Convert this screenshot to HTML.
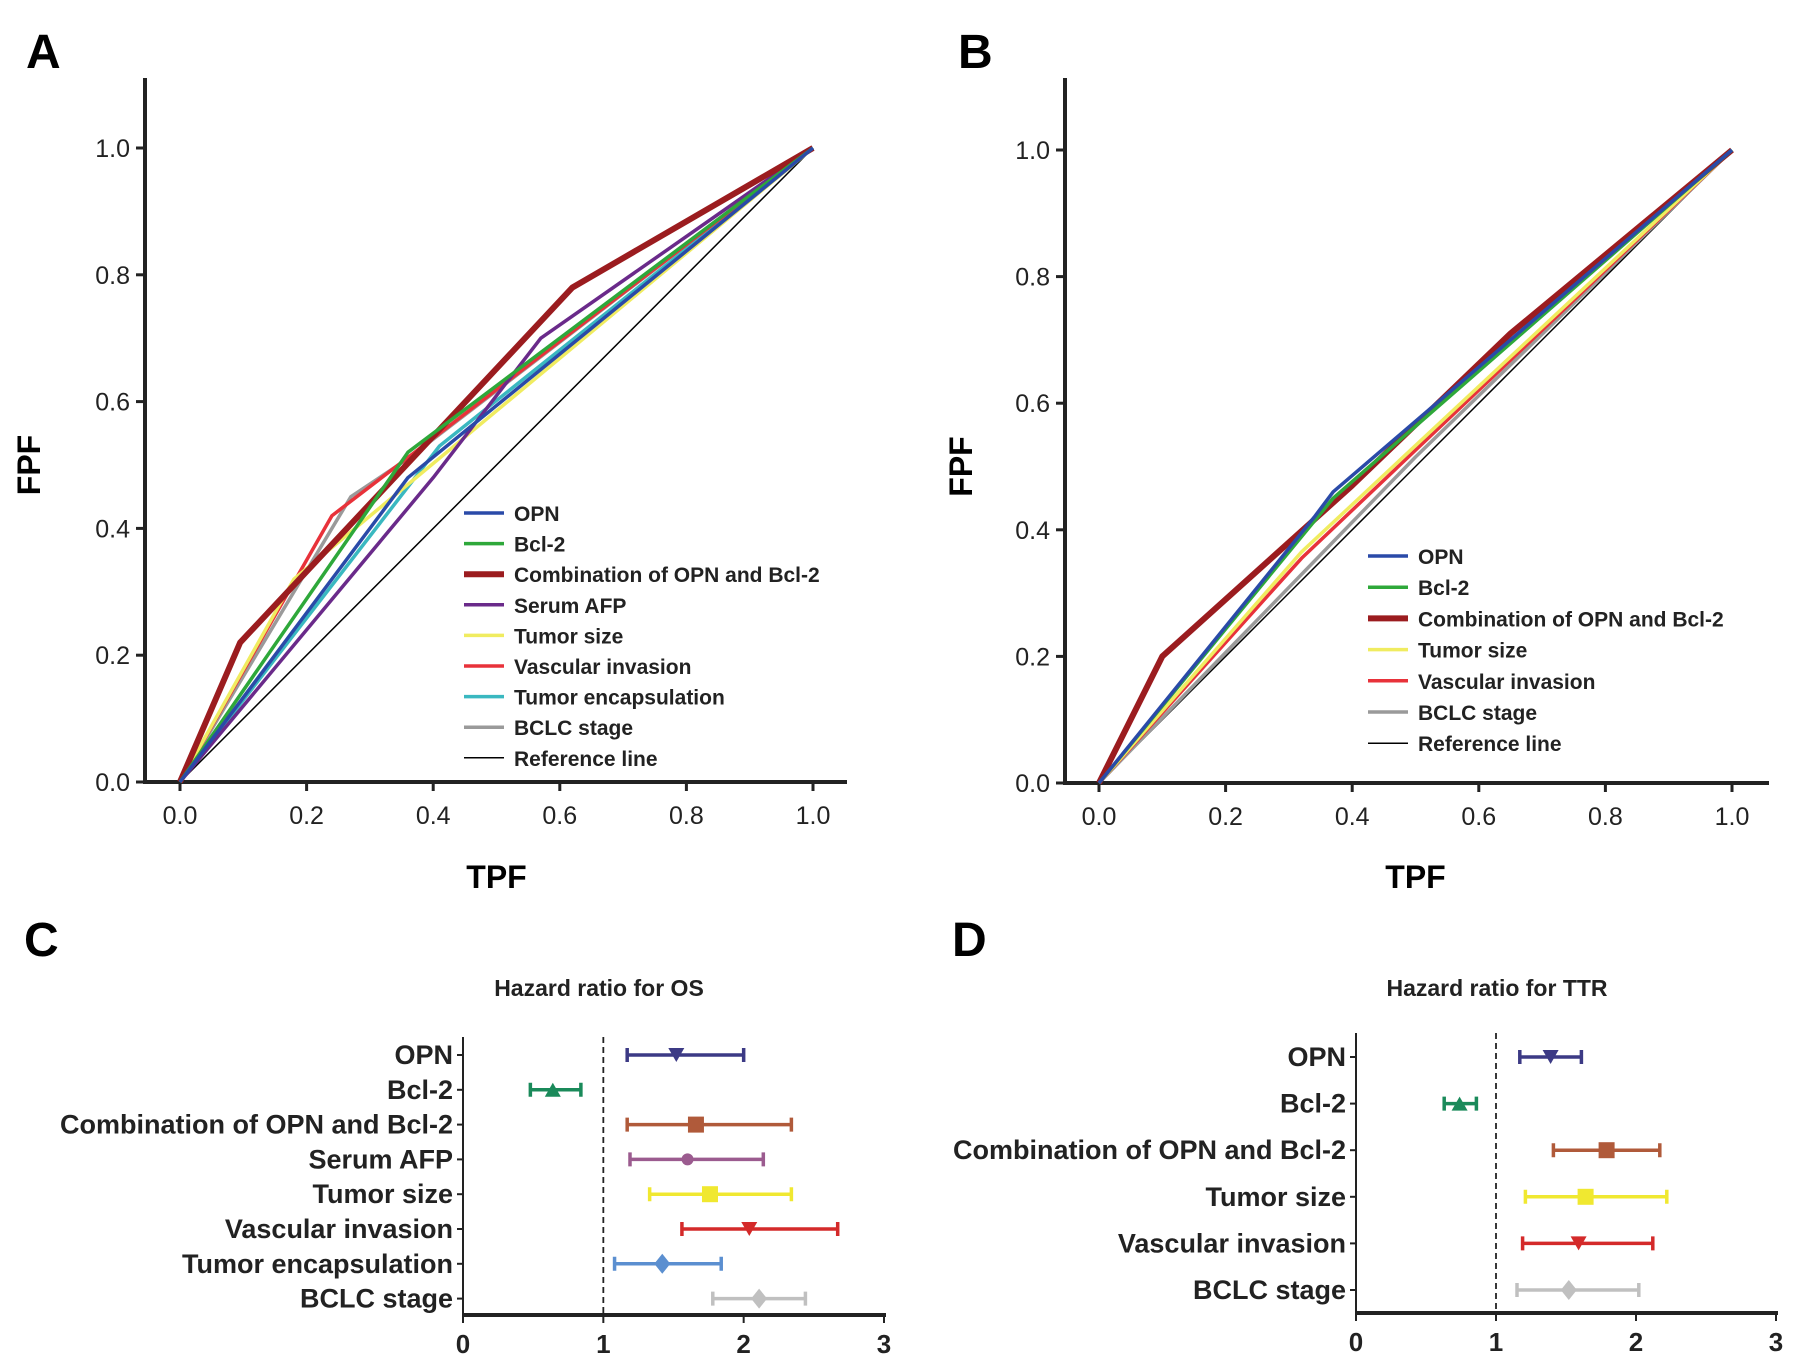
<!DOCTYPE html>
<html><head><meta charset="utf-8"><style>
html,body{margin:0;padding:0;background:#fff}
svg{display:block;font-family:"Liberation Sans",Arial,sans-serif}
</style></head><body>
<svg id="fig" width="1795" height="1369" viewBox="0 0 1795 1369" xmlns="http://www.w3.org/2000/svg">
<g id="gA"></g>
<g id="gB"></g>
<g id="gC"></g>
<g id="gD"></g>
</svg>
<script>
// ---- Panel A data ----
const rocANames = ["OPN","Bcl-2","Combination of OPN and Bcl-2","Serum AFP","Tumor size","Vascular invasion","Tumor encapsulation","BCLC stage","Reference line"];
const rocAColors = ["#2a4aa8","#2ea83a","#9b1c1f","#6a2a8a","#f0ec60","#e8323a","#3ab8c0","#9a9a9a","#000"];
const rocAWidths = [3.5,3.5,6,3.5,3.5,3.5,3.5,3.5,1.5];
const rocAX = [[0,0.36,1],[0,0.36,1],[0,0.095,0.62,1],[0,0.4,0.57,1],[0,0.18,1],[0,0.24,0.58,1],[0,0.41,1],[0,0.27,0.36,1],[0,1]];
const rocAY = [[0,0.48,1],[0,0.52,1],[0,0.22,0.78,1],[0,0.48,0.70,1],[0,0.32,1],[0,0.42,0.68,1],[0,0.53,1],[0,0.45,0.51,1],[0,1]];
// ---- Panel B data ----
const rocBNames = ["OPN","Bcl-2","Combination of OPN and Bcl-2","Tumor size","Vascular invasion","BCLC stage","Reference line"];
const rocBColors = ["#2a4aa8","#2ea83a","#9b1c1f","#f0ec60","#e8323a","#9a9a9a","#000"];
const rocBWidths = [3.5,3.5,6,3.5,3.5,3.5,1.5];
const rocBX = [[0,0.34,0.37,1],[0,0.37,1],[0,0.1,0.4,0.65,1],[0,0.32,1],[0,0.32,1],[0,0.5,1],[0,1]];
const rocBY = [[0,0.42,0.46,1],[0,0.45,1],[0,0.2,0.47,0.71,1],[0,0.365,1],[0,0.355,1],[0,0.515,1],[0,1]];
const rocTicks = ["0.0","0.2","0.4","0.6","0.8","1.0"];
// ---- Panel C data ----
const hrCLabels = ["OPN","Bcl-2","Combination of OPN and Bcl-2","Serum AFP","Tumor size","Vascular invasion","Tumor encapsulation","BCLC stage"];
const hrCPoint = [1.52,0.64,1.66,1.60,1.76,2.04,1.42,2.11];
const hrCLow = [1.17,0.48,1.17,1.19,1.33,1.56,1.08,1.78];
const hrCHigh = [2.00,0.84,2.34,2.14,2.34,2.67,1.84,2.44];
const hrCColors = ["#3c3a85","#1a8a5a","#b05a3a","#9b5b8f","#f0e830","#d42a2a","#5b8fd0","#c0c0c0"];
const hrCShapes = ["tdown","tup","square","circle","square","tdown","diamond","diamond"];
// ---- Panel D data ----
const hrDLabels = ["OPN","Bcl-2","Combination of OPN and Bcl-2","Tumor size","Vascular invasion","BCLC stage"];
const hrDPoint = [1.39,0.74,1.79,1.64,1.59,1.52];
const hrDLow = [1.17,0.63,1.41,1.21,1.19,1.15];
const hrDHigh = [1.61,0.86,2.17,2.22,2.12,2.02];
const hrDColors = ["#3c3a85","#1a8a5a","#b05a3a","#f0e830","#d42a2a","#c0c0c0"];
const hrDShapes = ["tdown","tup","square","square","tdown","diamond"];
const hrTicks = ["0","1","2","3"];

const NS="http://www.w3.org/2000/svg";
function mk(parent,tag,attrs,text){const e=document.createElementNS(NS,tag);for(const k in attrs)e.setAttribute(k,attrs[k]);if(text!==undefined)e.textContent=text;parent.appendChild(e);return e;}

function roc(g,opt,names,colors,widths,XS,YS,letter){
  const sx=v=>opt.x0+(opt.x1-opt.x0)*v, sy=v=>opt.y0-(opt.y0-opt.y1)*v;
  let t=mk(g,'text',{x:opt.lx,y:68,'font-size':48,'font-weight':'bold'},letter);
  
  
  let a=mk(g,'path',{d:`M${opt.ax} 78 V${sy(0)} H${opt.axEnd}`,stroke:'#222','stroke-width':4,fill:'none'});
  
  
  rocTicks.forEach((lab,i)=>{const v=i*0.2;
    let l=mk(g,'line',{x1:opt.ax-9,x2:opt.ax,y1:sy(v),y2:sy(v),stroke:'#222','stroke-width':3});
    
    
    let yt=mk(g,'text',{x:opt.ax-15,y:sy(v)+9,'font-size':25,'text-anchor':'end',fill:'#222'},lab);
    
    
    let l2=mk(g,'line',{x1:sx(v),x2:sx(v),y1:sy(0),y2:sy(0)+9,stroke:'#222','stroke-width':3});
    
    
    let xt=mk(g,'text',{x:sx(v),y:sy(0)+42,'font-size':25,'text-anchor':'middle',fill:'#222'},lab);
    
    
  });
  let xl=mk(g,'text',{x:(opt.x0+opt.x1)/2,y:888,'font-size':32,'font-weight':'bold','text-anchor':'middle'},'TPF');
  
  
  let yl=mk(g,'text',{x:0,y:0,'font-size':32,'font-weight':'bold','text-anchor':'middle',transform:`translate(${opt.lx+14},${(sy(0)+sy(1))/2}) rotate(-90)`},'FPF');
  
  
  for(let i=names.length-1;i>=0;i--){
    const pts=XS[i].map((x,j)=>sx(x)+','+sy(YS[i][j])).join(' ');
    let p=mk(g,'polyline',{points:pts,fill:'none',stroke:colors[i],'stroke-width':widths[i],'stroke-linejoin':'round'});
    
    
  }
  names.forEach((n,i)=>{const y=opt.ly+i*opt.lstep;
    let l=mk(g,'line',{x1:opt.lgx,x2:opt.lgx+40,y1:y,y2:y,stroke:colors[i],'stroke-width':widths[i]});
    
    
    let t=mk(g,'text',{x:opt.lgx+50,y:y+8,'font-size':21,'font-weight':'bold',fill:'#222'},n);
    
    
  });
}
roc(document.getElementById('gA'),{lx:26,ax:145,axEnd:847,x0:180,x1:813,y0:782,y1:148,lgx:464,ly:513,lstep:30.6},rocANames,rocAColors,rocAWidths,rocAX,rocAY,'A');
roc(document.getElementById('gB'),{lx:958,ax:1065,axEnd:1769,x0:1099,x1:1732,y0:783,y1:150,lgx:1368,ly:556,lstep:31.2},rocBNames,rocBColors,rocBWidths,rocBX,rocBY,'B');

function marker(g,shape,x,y,c){
  let e;
  if(shape==='square')e=mk(g,'rect',{x:x-8,y:y-8,width:16,height:16,fill:c});
  else if(shape==='circle')e=mk(g,'circle',{cx:x,cy:y,r:6,fill:c});
  else if(shape==='tdown')e=mk(g,'polygon',{points:`${x-8},${y-7} ${x+8},${y-7} ${x},${y+7}`,fill:c});
  else if(shape==='tup')e=mk(g,'polygon',{points:`${x-8},${y+7} ${x+8},${y+7} ${x},${y-7}`,fill:c});
  else e=mk(g,'polygon',{points:`${x},${y-10} ${x+8},${y} ${x},${y+10} ${x-8},${y}`,fill:c});
  
  
}
function forest(g,opt,labels,pt,lo,hi,colors,shapes,letter,title){
  const sx=v=>opt.x0+(opt.x3-opt.x0)*v/3;
  let t=mk(g,'text',{x:opt.lx,y:956,'font-size':48,'font-weight':'bold'},letter);
  
  
  let tt=mk(g,'text',{x:opt.tx,y:996,'font-size':23,'font-weight':'bold','text-anchor':'middle',fill:'#222'},title);
  
  
  let ax=mk(g,'path',{d:`M${opt.x0} ${opt.top} V${opt.axY} H${opt.x3+2}`,stroke:'#222','stroke-width':2,fill:'none'});
  
  
  let bx=mk(g,'line',{x1:opt.x0,x2:opt.x3+2,y1:opt.axY,y2:opt.axY,stroke:'#222','stroke-width':4});
  
  
  let dl=mk(g,'line',{x1:sx(1),x2:sx(1),y1:opt.top,y2:opt.axY,stroke:'#222','stroke-width':1.8,'stroke-dasharray':'6,4'});
  
  
  hrTicks.forEach((lab,i)=>{
    let l=mk(g,'line',{x1:sx(i),x2:sx(i),y1:opt.axY,y2:opt.axY+8,stroke:'#222','stroke-width':2});
    
    
    let tx=mk(g,'text',{x:sx(i),y:opt.axY+38,'font-size':26,'font-weight':'bold','text-anchor':'middle',fill:'#222'},lab);
    
    
  });
  labels.forEach((lab,i)=>{const y=opt.r0+i*opt.rs;
    let l=mk(g,'line',{x1:opt.x0-6,x2:opt.x0,y1:y,y2:y,stroke:'#222','stroke-width':2});
    
    
    let tx=mk(g,'text',{x:opt.x0-10,y:y+9,'font-size':27,'font-weight':'bold','text-anchor':'end',fill:'#222'},lab);
    
    
    let ci=mk(g,'path',{d:`M${sx(lo[i])} ${y-7} V${y+7} M${sx(lo[i])} ${y} H${sx(hi[i])} M${sx(hi[i])} ${y-7} V${y+7}`,stroke:colors[i],'stroke-width':3.5,fill:'none'});
    
    
    marker(g,shapes[i],sx(pt[i]),y,colors[i]);
  });
}
forest(document.getElementById('gC'),{lx:24,tx:599,x0:463,x3:884,top:1037,axY:1315,r0:1055,rs:34.8},hrCLabels,hrCPoint,hrCLow,hrCHigh,hrCColors,hrCShapes,'C','Hazard ratio for OS');
forest(document.getElementById('gD'),{lx:952,tx:1497,x0:1356,x3:1776,top:1033,axY:1313,r0:1057,rs:46.6},hrDLabels,hrDPoint,hrDLow,hrDHigh,hrDColors,hrDShapes,'D','Hazard ratio for TTR');
</script>
</body></html>
